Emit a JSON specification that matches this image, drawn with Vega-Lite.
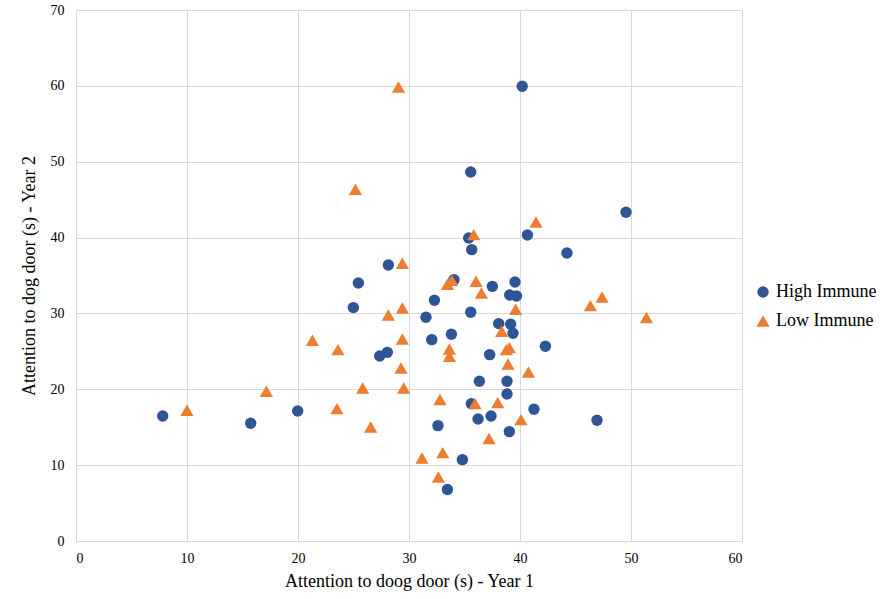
{
  "$schema": "https://vega.github.io/schema/vega-lite/v6.json",
  "autosize": {"type": "none"},
  "width": 666,
  "height": 531,
  "padding": {"left": 76, "top": 10, "right": 144, "bottom": 58},
  "config": {
    "view": {"stroke": null},
    "font": "Liberation Serif",
    "axis": {"gridColor": "#d9d9d9", "domainColor": "#d9d9d9", "ticks": false, "labelFont": "Times New Roman", "titleFont": "Liberation Serif", "labelFontSize": 14, "titleFontSize": 18, "titleFontWeight": "normal", "labelColor": "#000", "titleColor": "#000"},
    "legend": {"labelFont": "Times New Roman", "labelFontSize": 18, "labelColor": "#000"}
  },
  "data": {"values": [
    {"g": "High Immune", "x": 7.81, "y": 16.48},
    {"g": "High Immune", "x": 15.74, "y": 15.52},
    {"g": "High Immune", "x": 19.97, "y": 17.14},
    {"g": "High Immune", "x": 24.99, "y": 30.77},
    {"g": "High Immune", "x": 25.44, "y": 34.01},
    {"g": "High Immune", "x": 27.36, "y": 24.39},
    {"g": "High Immune", "x": 28.05, "y": 24.87},
    {"g": "High Immune", "x": 28.14, "y": 36.38},
    {"g": "High Immune", "x": 31.53, "y": 29.49},
    {"g": "High Immune", "x": 32.05, "y": 26.55},
    {"g": "High Immune", "x": 32.29, "y": 31.73},
    {"g": "High Immune", "x": 32.61, "y": 15.21},
    {"g": "High Immune", "x": 33.46, "y": 6.78},
    {"g": "High Immune", "x": 33.82, "y": 27.25},
    {"g": "High Immune", "x": 34.05, "y": 34.46},
    {"g": "High Immune", "x": 34.81, "y": 10.73},
    {"g": "High Immune", "x": 35.38, "y": 39.94},
    {"g": "High Immune", "x": 35.56, "y": 48.64},
    {"g": "High Immune", "x": 35.56, "y": 30.15},
    {"g": "High Immune", "x": 35.62, "y": 18.11},
    {"g": "High Immune", "x": 35.65, "y": 38.41},
    {"g": "High Immune", "x": 36.22, "y": 16.08},
    {"g": "High Immune", "x": 36.34, "y": 21.05},
    {"g": "High Immune", "x": 37.27, "y": 24.57},
    {"g": "High Immune", "x": 37.39, "y": 16.48},
    {"g": "High Immune", "x": 37.51, "y": 33.57},
    {"g": "High Immune", "x": 38.08, "y": 28.66},
    {"g": "High Immune", "x": 38.83, "y": 21.05},
    {"g": "High Immune", "x": 38.83, "y": 19.38},
    {"g": "High Immune", "x": 39.04, "y": 14.42},
    {"g": "High Immune", "x": 39.07, "y": 32.43},
    {"g": "High Immune", "x": 39.16, "y": 28.57},
    {"g": "High Immune", "x": 39.37, "y": 27.38},
    {"g": "High Immune", "x": 39.55, "y": 34.14},
    {"g": "High Immune", "x": 39.68, "y": 32.3},
    {"g": "High Immune", "x": 40.2, "y": 59.94},
    {"g": "High Immune", "x": 40.67, "y": 40.34},
    {"g": "High Immune", "x": 41.26, "y": 17.36},
    {"g": "High Immune", "x": 42.29, "y": 25.67},
    {"g": "High Immune", "x": 44.23, "y": 37.97},
    {"g": "High Immune", "x": 46.94, "y": 15.91},
    {"g": "High Immune", "x": 49.55, "y": 43.33},
    {"g": "Low Immune", "x": 10.0, "y": 17.23},
    {"g": "Low Immune", "x": 17.15, "y": 19.73},
    {"g": "Low Immune", "x": 21.3, "y": 26.46},
    {"g": "Low Immune", "x": 23.51, "y": 17.45},
    {"g": "Low Immune", "x": 23.6, "y": 25.23},
    {"g": "Low Immune", "x": 25.17, "y": 46.36},
    {"g": "Low Immune", "x": 25.83, "y": 20.17},
    {"g": "Low Immune", "x": 26.55, "y": 15.03},
    {"g": "Low Immune", "x": 28.14, "y": 29.79},
    {"g": "Low Immune", "x": 29.05, "y": 59.85},
    {"g": "Low Immune", "x": 29.28, "y": 22.81},
    {"g": "Low Immune", "x": 29.4, "y": 36.61},
    {"g": "Low Immune", "x": 29.4, "y": 30.72},
    {"g": "Low Immune", "x": 29.4, "y": 26.63},
    {"g": "Low Immune", "x": 29.52, "y": 20.17},
    {"g": "Low Immune", "x": 31.17, "y": 10.94},
    {"g": "Low Immune", "x": 32.65, "y": 8.44},
    {"g": "Low Immune", "x": 32.79, "y": 18.64},
    {"g": "Low Immune", "x": 33.04, "y": 11.65},
    {"g": "Low Immune", "x": 33.46, "y": 33.84},
    {"g": "Low Immune", "x": 33.64, "y": 25.31},
    {"g": "Low Immune", "x": 33.64, "y": 24.35},
    {"g": "Low Immune", "x": 33.85, "y": 34.37},
    {"g": "Low Immune", "x": 35.83, "y": 40.39},
    {"g": "Low Immune", "x": 35.95, "y": 18.11},
    {"g": "Low Immune", "x": 36.04, "y": 34.23},
    {"g": "Low Immune", "x": 36.52, "y": 32.69},
    {"g": "Low Immune", "x": 37.21, "y": 13.5},
    {"g": "Low Immune", "x": 37.99, "y": 18.24},
    {"g": "Low Immune", "x": 38.35, "y": 27.64},
    {"g": "Low Immune", "x": 38.77, "y": 25.23},
    {"g": "Low Immune", "x": 38.92, "y": 23.33},
    {"g": "Low Immune", "x": 39.04, "y": 25.49},
    {"g": "Low Immune", "x": 39.61, "y": 30.54},
    {"g": "Low Immune", "x": 40.09, "y": 16.0},
    {"g": "Low Immune", "x": 40.76, "y": 22.28},
    {"g": "Low Immune", "x": 41.44, "y": 42.05},
    {"g": "Low Immune", "x": 46.34, "y": 31.03},
    {"g": "Low Immune", "x": 47.39, "y": 32.16},
    {"g": "Low Immune", "x": 51.39, "y": 29.45}
  ]},
  "mark": {"type": "point", "filled": true, "opacity": 1},
  "encoding": {
    "x": {"field": "x", "type": "quantitative", "scale": {"domain": [0, 60], "nice": false, "zero": true}, "axis": {"values": [0, 10, 20, 30, 40, 50, 60], "title": "Attention to doog door (s) - Year 1", "labelPadding": 10, "titlePadding": 7}},
    "y": {"field": "y", "type": "quantitative", "scale": {"domain": [0, 70], "nice": false}, "axis": {"values": [0, 10, 20, 30, 40, 50, 60, 70], "title": "Attention to dog door (s) - Year 2", "labelPadding": 12, "titlePadding": 12}},
    "color": {"field": "g", "type": "nominal", "scale": {"domain": ["High Immune", "Low Immune"], "range": ["#2F5597", "#ED7D31"]}, "legend": {"title": null, "orient": "none", "legendX": 678, "legendY": 273, "symbolSize": 150, "rowPadding": 11, "labelOffset": 4}},
    "shape": {"field": "g", "type": "nominal", "scale": {"domain": ["High Immune", "Low Immune"], "range": ["circle", "triangle-up"]}, "legend": null},
    "size": {"field": "g", "type": "nominal", "scale": {"domain": ["High Immune", "Low Immune"], "range": [130, 175]}, "legend": null}
  }
}
